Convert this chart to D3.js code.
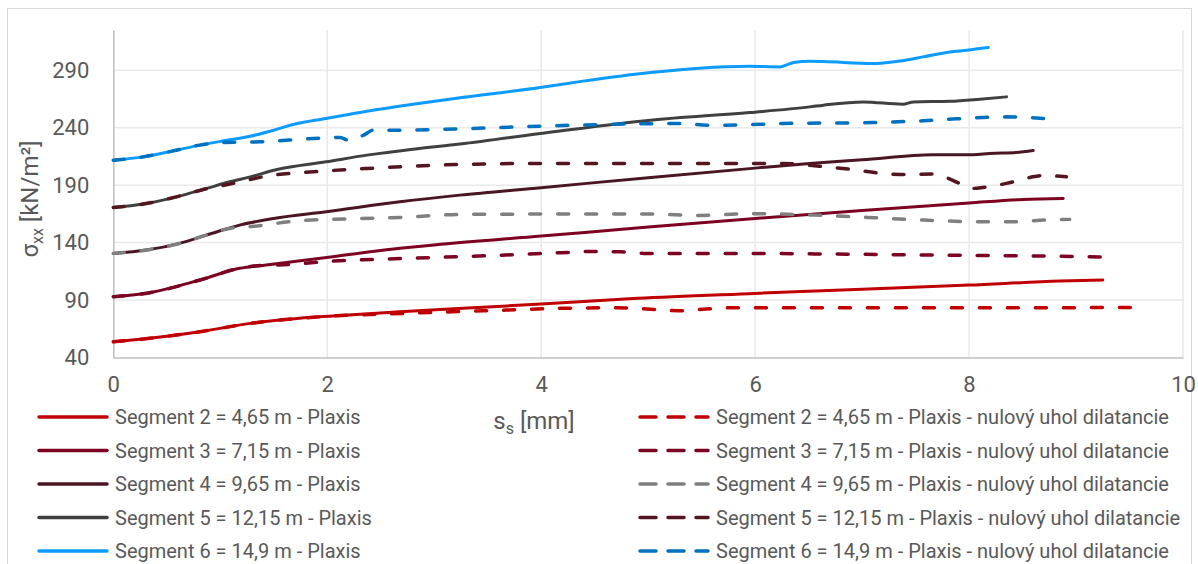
<!DOCTYPE html>
<html>
<head>
<meta charset="utf-8">
<script src="https://cdn.jsdelivr.net/npm/d3@7"></script>
<style>
  html, body { margin: 0; padding: 0; background: #fff; }
  svg { display: block; font-family: Roboto, "Noto Sans", sans-serif; }
</style>
</head>
<body>
<svg id="chart" width="1198" height="564"></svg>
<script>
// Displacement s_s [mm] and horizontal stress σxx [kN/m²] per segment
const seg2 = [[0,53.7],[0.34,56.7],[0.81,62.4],[1.28,69.7],[1.74,74.1],[2.05,76.1],[2.68,79.8],[3.5,84],[4,86.5],[4.9,91.5],[6,95.8],[7,99.5],[8,103],[8.85,106.5],[9.25,107.4]];
const seg3 = [[0,92.9],[0.34,96.4],[0.81,107.4],[1.18,117.6],[1.43,120.4],[2.05,127.7],[2.68,135],[3,138],[4,145.7],[5,153.5],[6,161],[7,168],[8,174.5],[8.5,177.5],[8.88,178.4]];
const seg4 = [[0,130.6],[0.31,133.5],[0.62,139.3],[0.87,146.5],[1.18,155.2],[1.5,161],[1.99,166.8],[2.68,175.5],[3.24,181.3],[4,187.8],[5,196.5],[6,204.8],[6.51,208.9],[7,212],[7.66,216.5],[8.04,216.4],[8.19,217.6],[8.44,218.4],[8.6,220.2]];
const seg5 = [[0,170.6],[0.28,173.5],[0.59,179.8],[0.84,186.2],[1.09,192.9],[1.28,197.2],[1.53,203.6],[1.99,210.3],[2.37,216.1],[2.8,221.3],[3.24,225.7],[4.08,236],[5.02,246.5],[5.95,253.2],[6.51,258.1],[6.64,259.6],[7.01,262.4],[7.38,260.4],[7.48,262.4],[7.82,263],[8.1,264.8],[8.35,266.8]];
const seg6 = [[0,211.7],[0.28,214.6],[0.56,219.8],[0.81,224.8],[1.06,229],[1.28,232.6],[1.5,237.8],[1.68,242.8],[1.99,248],[2.37,254.3],[2.8,260.4],[3.24,266],[3.99,275],[4.39,280.5],[5.02,288],[5.48,291.8],[5.95,293.4],[6.23,292.9],[6.36,296.7],[6.51,297.8],[6.64,297.5],[7.1,295.8],[7.35,298],[7.57,301.6],[7.82,305.9],[7.98,307.4],[8.18,309.7]];

const seg2zero = [[0,53.7],[0.34,56.7],[0.81,62.4],[1.28,69.7],[1.74,74.1],[2.05,76.1],[2.6,78],[3.16,79.8],[3.68,81.3],[4.19,82.8],[4.7,83.3],[4.99,82.2],[5.28,80.7],[5.54,82.2],[5.79,83.3],[7,83.3],[8,83.3],[9.51,83.5]];
const seg3zero = [[0,92.9],[0.34,96.4],[0.81,107.4],[1.18,117.6],[1.43,120.4],[1.55,120.6],[2.06,123.9],[2.71,126.2],[3.42,128.3],[4.19,131.2],[4.48,132.3],[4.74,132],[4.99,130.6],[5.79,130.6],[6.76,130],[7.72,129.1],[8.69,128.3],[9.25,127.5]];
const seg4zero = [[0,130.6],[0.31,133.5],[0.62,139.3],[0.87,146.5],[1.1,152.5],[1.31,154.2],[1.74,159],[2.68,161.9],[3.24,164.5],[4.08,164.8],[5.02,164.8],[5.48,163.6],[5.95,165.2],[6.55,163.9],[7.05,161.9],[7.58,159.6],[8.12,158.1],[8.41,158.1],[8.66,159.4],[8.94,160.2]];
const seg5zero = [[0,170.6],[0.28,173.5],[0.59,179.8],[0.84,186.2],[1.12,191.5],[1.43,197.8],[1.87,201.6],[2.37,204.5],[3.24,208],[3.99,208.9],[6.26,208.9],[6.6,206.5],[6.82,204.5],[7.35,199.3],[7.66,199.6],[7.91,191.5],[8.02,187.1],[8.13,188],[8.35,191.5],[8.57,196.7],[8.69,198.4],[8.91,197.2]];
const seg6zero = [[0,211.7],[0.28,214.6],[0.56,219.8],[0.81,224.8],[1.03,227.1],[1.37,227.7],[1.87,230.6],[2.12,231.5],[2.2,229],[2.34,233.5],[2.43,237.8],[2.68,237.8],[3.24,239],[4.08,241.6],[4.7,243],[5.33,243.6],[5.55,242.2],[5.73,242.2],[6.26,243.6],[7.1,244.5],[7.57,246],[7.88,247.7],[8.13,248.9],[8.35,249.4],[8.71,248]];

const xTicks = [0, 2, 4, 6, 8, 10];
const yTicks = [40, 90, 140, 190, 240, 290];

const solidLabels = [
  "Segment 2 = 4,65 m - Plaxis",
  "Segment 3 = 7,15 m - Plaxis",
  "Segment 4 = 9,65 m - Plaxis",
  "Segment 5 = 12,15 m - Plaxis",
  "Segment 6 = 14,9 m - Plaxis"
];
const dashedLabels = [
  "Segment 2 = 4,65 m - Plaxis - nulový uhol dilatancie",
  "Segment 3 = 7,15 m - Plaxis - nulový uhol dilatancie",
  "Segment 4 = 9,65 m - Plaxis - nulový uhol dilatancie",
  "Segment 5 = 12,15 m - Plaxis - nulový uhol dilatancie",
  "Segment 6 = 14,9 m - Plaxis - nulový uhol dilatancie"
];
const solidColors  = ["#C00000", "#7D0222", "#4A1623", "#404040", "#0D9BFF"];
const dashedColors = ["#C00000", "#7D0222", "#7F7F7F", "#541520", "#0070C0"];

const solidSeries  = [seg2, seg3, seg4, seg5, seg6];
const dashedSeries = [seg2zero, seg3zero, seg4zero, seg5zero, seg6zero];

const svg = d3.select("#chart");
const textColor = "#595959";

// outer chart frame
svg.append("rect")
  .attr("x", 7.5).attr("y", 8.5)
  .attr("width", 1184).attr("height", 600)
  .attr("fill", "none").attr("stroke", "#D9D9D9").attr("stroke-width", 1);

const plot = { left: 113.3, right: 1183, top: 30, bottom: 357.5 };
const x = d3.scaleLinear().domain([0, 10]).range([plot.left, plot.right]);
const y = d3.scaleLinear().domain([40, 325]).range([plot.bottom, plot.top]);

// gridlines
const grid = svg.append("g");
grid.selectAll("line.h").data(yTicks.slice(1)).join("line")
  .attr("x1", plot.left).attr("x2", plot.right)
  .attr("y1", d => y(d)).attr("y2", d => y(d))
  .attr("stroke", "#E9E9E9").attr("stroke-width", 1.5);
grid.selectAll("line.v").data(xTicks.slice(1)).join("line")
  .attr("x1", d => x(d)).attr("x2", d => x(d))
  .attr("y1", plot.top).attr("y2", plot.bottom)
  .attr("stroke", "#E9E9E9").attr("stroke-width", 1.5);

// axes
const xAxis = d3.axisBottom(x).tickValues(xTicks).tickSize(0).tickPadding(19).tickFormat(d3.format("d"));
const yAxis = d3.axisLeft(y).tickValues(yTicks).tickSize(0).tickPadding(24).tickFormat(d3.format("d"));

const gx = svg.append("g").attr("transform", `translate(0,${plot.bottom})`).call(xAxis);
const gy = svg.append("g").attr("transform", `translate(${plot.left},0)`).call(yAxis);
[gx, gy].forEach(g => {
  g.select(".domain").attr("stroke", "#BFBFBF").attr("stroke-width", 1.5);
  g.selectAll("text").attr("fill", textColor).attr("font-size", 22)
    .attr("font-family", "Roboto, 'Noto Sans', sans-serif");
});

// series lines
const line = d3.line().x(d => x(d[0])).y(d => y(d[1])).curve(d3.curveMonotoneX);
const lines = svg.append("g").attr("fill", "none").attr("stroke-linejoin", "round");
solidSeries.forEach((s, i) => {
  lines.append("path").attr("d", line(s))
    .attr("stroke", solidColors[i]).attr("stroke-width", 3).attr("stroke-linecap", "round");
});
dashedSeries.forEach((s, i) => {
  lines.append("path").attr("d", line(s))
    .attr("stroke", dashedColors[i]).attr("stroke-width", 3.5)
    .attr("stroke-linecap", "round").attr("stroke-dasharray", "11,17");
});

// axis titles
const yTitle = svg.append("text")
  .attr("transform", "translate(38,199) rotate(-90)")
  .attr("text-anchor", "middle").attr("fill", textColor).attr("font-size", 24);
yTitle.append("tspan").text("σ");
yTitle.append("tspan").attr("font-size", 16).attr("dy", 5).text("xx");
yTitle.append("tspan").attr("dy", -5).text(" [kN/m²]");

const xTitle = svg.append("text")
  .attr("x", 534).attr("y", 429)
  .attr("text-anchor", "middle").attr("fill", textColor).attr("font-size", 24);
xTitle.append("tspan").text("s");
xTitle.append("tspan").attr("font-size", 16).attr("dy", 5).text("s");
xTitle.append("tspan").attr("dy", -5).text(" [mm]");

// legend
const rowY = [417, 450.5, 484, 517.5, 551];
const legend = svg.append("g").attr("font-size", 20).attr("fill", textColor);
solidLabels.forEach((lab, i) => {
  legend.append("line")
    .attr("x1", 39).attr("x2", 107).attr("y1", rowY[i]).attr("y2", rowY[i])
    .attr("stroke", solidColors[i]).attr("stroke-width", 3.5).attr("stroke-linecap", "round");
  legend.append("text").attr("x", 115).attr("y", rowY[i]).attr("dy", "0.35em").text(lab);
});
dashedLabels.forEach((lab, i) => {
  legend.append("line")
    .attr("x1", 640).attr("x2", 708).attr("y1", rowY[i]).attr("y2", rowY[i])
    .attr("stroke", dashedColors[i]).attr("stroke-width", 3.5).attr("stroke-linecap", "round")
    .attr("stroke-dasharray", "16,12");
  legend.append("text").attr("x", 716).attr("y", rowY[i]).attr("dy", "0.35em").text(lab);
});
</script>
</body>
</html>
